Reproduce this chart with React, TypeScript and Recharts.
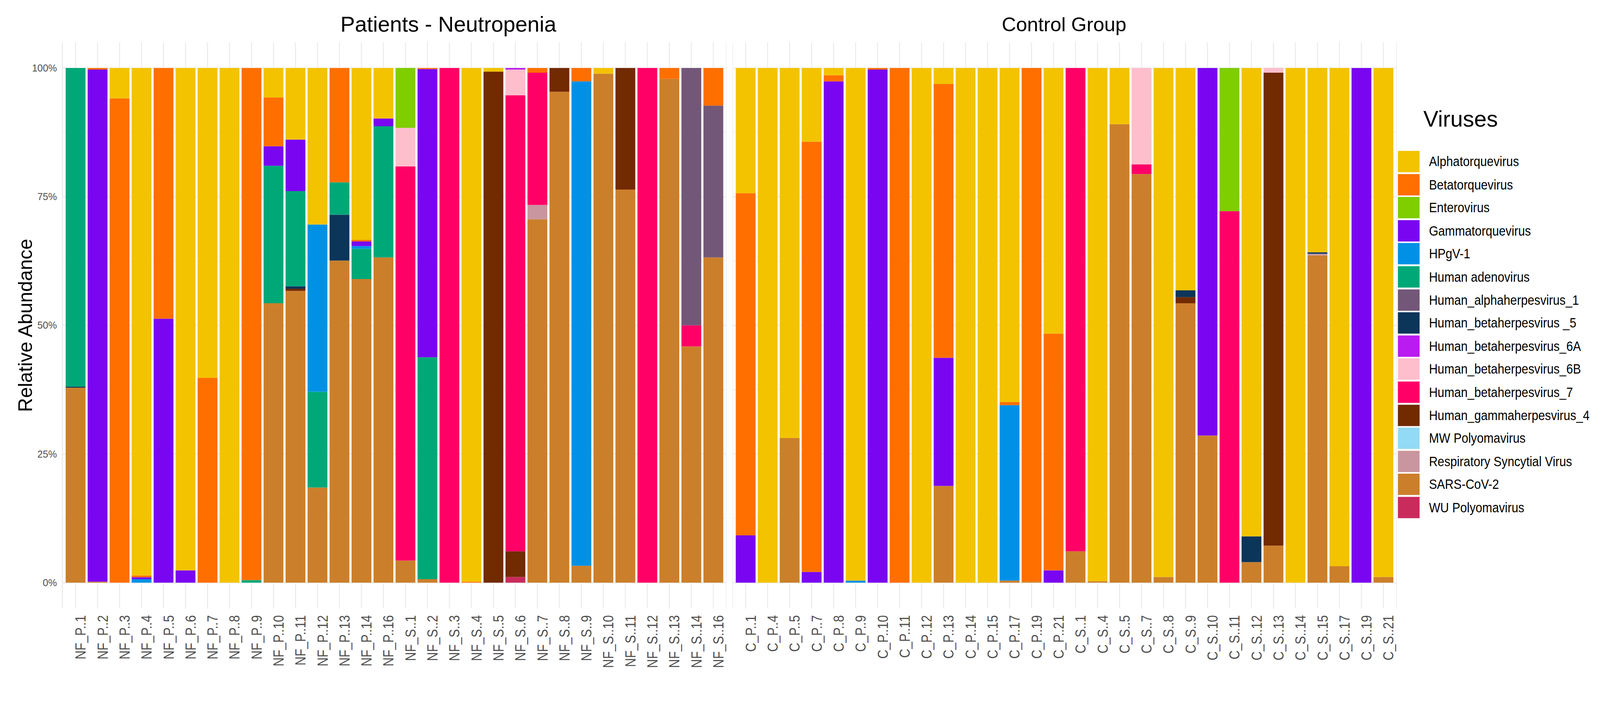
import React from "react"
import { Bar, BarChart, CartesianGrid, XAxis, YAxis } from "recharts"

const font = "'Liberation Sans', Arial, Helvetica, sans-serif"

// legend order (top of each stack first)
const viruses = [
  "Alphatorquevirus",
  "Betatorquevirus",
  "Enterovirus",
  "Gammatorquevirus",
  "HPgV-1",
  "Human adenovirus",
  "Human_alphaherpesvirus_1",
  "Human_betaherpesvirus _5",
  "Human_betaherpesvirus_6A",
  "Human_betaherpesvirus_6B",
  "Human_betaherpesvirus_7",
  "Human_gammaherpesvirus_4",
  "MW Polyomavirus",
  "Respiratory Syncytial Virus",
  "SARS-CoV-2",
  "WU Polyomavirus",
]

const virusColors = [
  "#F3C300", "#FF6F00", "#7ECE00", "#7A06F1", "#0091E6", "#00A878", "#735779", "#0C355A",
  "#BA1BF0", "#FFBECC", "#FF0066", "#722A00", "#92DAF5", "#C996A0", "#CC7F2A", "#C92B5C",
]

const yTicks = [0, 25, 50, 75, 100]
const yMinor = [12.5, 37.5, 62.5, 87.5]

// ---- Patients - Neutropenia ----
const nfSamples = [
  "NF_P..1", "NF_P..2", "NF_P..3", "NF_P..4", "NF_P..5", "NF_P..6", "NF_P..7", "NF_P..8",
  "NF_P..9", "NF_P..10", "NF_P..11", "NF_P..12", "NF_P..13", "NF_P..14", "NF_P..16",
  "NF_S..1", "NF_S..2", "NF_S..3", "NF_S..4", "NF_S..5", "NF_S..6", "NF_S..7", "NF_S..8",
  "NF_S..9", "NF_S..10", "NF_S..11", "NF_S..12", "NF_S..13", "NF_S..14", "NF_S..16",
]
const nfAlpha = [0, 0, 5.9, 98.6, 0, 97.6, 60.2, 100, 0, 5.7, 13.9, 30.4, 0, 33.4, 9.8, 0, 0, 0, 99.8, 0.7, 0, 0, 0, 0, 1.1, 0, 0, 0, 0, 0]
const nfBeta = [0, 0.3, 94.1, 0.35, 48.7, 0, 39.8, 0, 99.5, 9.5, 0, 0, 22.2, 0.3, 0, 0, 0.2, 0, 0.2, 0, 0, 0.9, 0, 2.6, 0, 0, 0, 2.1, 0, 7.3]
const nfEntero = [0, 0, 0, 0, 0, 0, 0, 0, 0, 0, 0, 0, 0, 0, 0, 11.6, 0, 0, 0, 0, 0, 0, 0, 0, 0, 0, 0, 0, 0, 0]
const nfGamma = [0, 99.5, 0, 0.35, 51.3, 2.4, 0, 0, 0, 3.8, 10.0, 0, 0, 0.9, 1.5, 0, 56.0, 0, 0, 0, 0, 0, 0, 0, 0, 0, 0, 0, 0, 0]
const nfHpgv = [0, 0, 0, 0.7, 0, 0, 0, 0, 0, 0, 0, 32.5, 0, 0.5, 0, 0, 0, 0, 0, 0, 0, 0, 0, 94.1, 0, 0, 0, 0, 0, 0]
const nfAdeno = [61.9, 0, 0, 0, 0, 0, 0, 0, 0.5, 26.7, 18.5, 18.6, 6.3, 5.9, 25.5, 0, 43.1, 0, 0, 0, 0, 0, 0, 0, 0, 0, 0, 0, 0, 0]
const nfHhv1 = [0, 0, 0, 0, 0, 0, 0, 0, 0, 0, 0, 0, 0, 0, 0, 0, 0, 0, 0, 0, 0, 0, 0, 0, 0, 0, 0, 0, 50.0, 29.5]
const nfHhv5 = [0.2, 0, 0, 0, 0, 0, 0, 0, 0, 0, 0.5, 0, 8.9, 0, 0, 0, 0, 0, 0, 0, 0, 0, 0, 0, 0, 0, 0, 0, 0, 0]
const nfHhv6a = [0, 0, 0, 0, 0, 0, 0, 0, 0, 0, 0, 0, 0, 0, 0, 0, 0, 0, 0, 0, 0.3, 0, 0, 0, 0, 0, 0, 0, 0, 0]
const nfHhv6b = [0, 0, 0, 0, 0, 0, 0, 0, 0, 0, 0, 0, 0, 0, 0, 7.5, 0, 0, 0, 0, 5.0, 0, 0, 0, 0, 0, 0, 0, 0, 0]
const nfHhv7 = [0, 0, 0, 0, 0, 0, 0, 0, 0, 0, 0, 0, 0, 0, 0, 76.6, 0, 100, 0, 0, 88.6, 25.7, 0, 0, 0, 0, 100, 0, 4.1, 0]
const nfHhv4 = [0, 0, 0, 0, 0, 0, 0, 0, 0, 0, 0.4, 0, 0, 0, 0, 0, 0, 0, 0, 99.3, 5.0, 0, 4.6, 0, 0, 23.6, 0, 0, 0, 0]
const nfMw = [0, 0, 0, 0, 0, 0, 0, 0, 0, 0, 0, 0, 0, 0, 0, 0, 0, 0, 0, 0, 0, 0, 0, 0, 0, 0, 0, 0, 0, 0]
const nfRsv = [0, 0, 0, 0, 0, 0, 0, 0, 0, 0, 0, 0, 0, 0, 0, 0, 0, 0, 0, 0, 0, 2.8, 0, 0, 0, 0, 0, 0, 0, 0]
const nfSars = [37.9, 0.2, 0, 0, 0, 0, 0, 0, 0, 54.3, 56.7, 18.5, 62.6, 59.0, 63.2, 4.3, 0.7, 0, 0, 0, 0, 70.6, 95.4, 3.3, 98.9, 76.4, 0, 97.9, 45.9, 63.2]
const nfWu = [0, 0, 0, 0, 0, 0, 0, 0, 0, 0, 0, 0, 0, 0, 0, 0, 0, 0, 0, 0, 1.1, 0, 0, 0, 0, 0, 0, 0, 0, 0]

// ---- Control Group ----
const cSamples = [
  "C_P..1", "C_P..4", "C_P..5", "C_P..7", "C_P..8", "C_P..9", "C_P..10", "C_P..11",
  "C_P..12", "C_P..13", "C_P..14", "C_P..15", "C_P..17", "C_P..19", "C_P..21",
  "C_S..1", "C_S..4", "C_S..5", "C_S..7", "C_S..8", "C_S..9", "C_S..10", "C_S..11",
  "C_S..12", "C_S..13", "C_S..14", "C_S..15", "C_S..17", "C_S..19", "C_S..21",
]
const cAlpha = [24.3, 100, 71.9, 14.3, 1.4, 99.6, 0, 0, 100, 3.1, 100, 100, 64.9, 0, 51.6, 0, 99.7, 10.9, 0, 98.9, 43.2, 0, 0, 91.0, 0, 100, 35.8, 96.8, 0, 98.9]
const cBeta = [66.5, 0, 0, 83.6, 1.2, 0, 0.3, 100, 0, 53.2, 0, 0, 0.6, 99.8, 46.0, 0, 0, 0, 0, 0, 0, 0, 0, 0, 0, 0, 0, 0, 0, 0]
const cEntero = [0, 0, 0, 0, 0, 0, 0, 0, 0, 0, 0, 0, 0, 0, 0, 0, 0, 0, 0, 0, 0, 0, 27.8, 0, 0, 0, 0, 0, 0, 0]
const cGamma = [9.2, 0, 0, 2.1, 97.4, 0, 99.7, 0, 0, 24.9, 0, 0, 0, 0, 2.4, 0, 0, 0, 0, 0, 0, 71.4, 0, 0, 0, 0, 0, 0, 100, 0]
const cHpgv = [0, 0, 0, 0, 0, 0.4, 0, 0, 0, 0, 0, 0, 34.1, 0, 0, 0, 0, 0, 0, 0, 0, 0, 0, 0, 0, 0, 0, 0, 0, 0]
const cAdeno = [0, 0, 0, 0, 0, 0, 0, 0, 0, 0, 0, 0, 0, 0, 0, 0, 0, 0, 0, 0, 0, 0, 0, 0, 0, 0, 0, 0, 0, 0]
const cHhv1 = [0, 0, 0, 0, 0, 0, 0, 0, 0, 0, 0, 0, 0, 0, 0, 0, 0, 0, 0, 0, 0, 0, 0, 0, 0, 0, 0, 0, 0, 0]
const cHhv5 = [0, 0, 0, 0, 0, 0, 0, 0, 0, 0, 0, 0, 0, 0, 0, 0, 0, 0, 0, 0, 1.3, 0, 0, 5.0, 0, 0, 0.3, 0, 0, 0]
const cHhv6a = [0, 0, 0, 0, 0, 0, 0, 0, 0, 0, 0, 0, 0, 0, 0, 0, 0, 0, 0, 0, 0, 0, 0, 0, 0, 0, 0, 0, 0, 0]
const cHhv6b = [0, 0, 0, 0, 0, 0, 0, 0, 0, 0, 0, 0, 0, 0, 0, 0, 0, 0, 18.7, 0, 0, 0, 0, 0, 0.9, 0, 0, 0, 0, 0]
const cHhv7 = [0, 0, 0, 0, 0, 0, 0, 0, 0, 0, 0, 0, 0, 0, 0, 93.9, 0, 0, 1.9, 0, 0, 0, 72.2, 0, 0, 0, 0, 0, 0, 0]
const cHhv4 = [0, 0, 0, 0, 0, 0, 0, 0, 0, 0, 0, 0, 0, 0, 0, 0, 0, 0, 0, 0, 1.2, 0, 0, 0, 91.9, 0, 0, 0, 0, 0]
const cMw = [0, 0, 0, 0, 0, 0, 0, 0, 0, 0, 0, 0, 0, 0, 0, 0, 0, 0, 0, 0, 0, 0, 0, 0, 0, 0, 0, 0, 0, 0]
const cRsv = [0, 0, 0, 0, 0, 0, 0, 0, 0, 0, 0, 0, 0, 0, 0, 0, 0, 0, 0, 0, 0, 0, 0, 0, 0, 0, 0.3, 0, 0, 0]
const cSars = [0, 0, 28.1, 0, 0, 0, 0, 0, 0, 18.8, 0, 0, 0.4, 0.2, 0, 6.1, 0.3, 89.1, 79.4, 1.1, 54.3, 28.6, 0, 4.0, 7.2, 0, 63.6, 3.2, 0, 1.1]
const cWu = [0, 0, 0, 0, 0, 0, 0, 0, 0, 0, 0, 0, 0, 0, 0, 0, 0, 0, 0, 0, 0, 0, 0, 0, 0, 0, 0, 0, 0, 0]

const nfSeries = [nfAlpha, nfBeta, nfEntero, nfGamma, nfHpgv, nfAdeno, nfHhv1, nfHhv5, nfHhv6a, nfHhv6b, nfHhv7, nfHhv4, nfMw, nfRsv, nfSars, nfWu]
const cSeries = [cAlpha, cBeta, cEntero, cGamma, cHpgv, cAdeno, cHhv1, cHhv5, cHhv6a, cHhv6b, cHhv7, cHhv4, cMw, cRsv, cSars, cWu]

const W = 4275
const H = 1822
const PANEL_W = 1774.6
const Y_AXIS_W = 166.6

function XTick({ x, y, payload }: any) {
  return (
    <text
      transform={`translate(${x},${y}) rotate(-90) scale(0.88,1)`}
      x={0}
      y={27}
      textAnchor="end"
      fontSize={38}
      fontFamily={font}
      fill="#4D4D4D"
    >
      {payload.value}
    </text>
  )
}

function Panel({ samples, series, left, showY }: any) {
  const rows = samples.map((s: string, i: number) => {
    const row: any = { sample: s }
    viruses.forEach((v, k) => {
      row[v] = series[k][i]
    })
    return row
  })
  const yW = showY ? Y_AXIS_W : 0
  // first Bar is drawn at the bottom, so go from the last virus to the first
  const order = viruses.map((_, k) => k).reverse()
  return (
    <div style={{ position: "absolute", left, top: 0 }}>
      <BarChart
        width={yW + PANEL_W}
        height={H}
        data={rows}
        margin={{ top: 113, right: 0, bottom: 17, left: 0 }}
        barCategoryGap="5%"
      >
        <CartesianGrid stroke="#EBEBEB" strokeWidth={1.4} vertical={false} horizontalValues={yMinor} />
        <CartesianGrid stroke="#EBEBEB" strokeWidth={2.7} horizontalValues={yTicks} />
        <XAxis
          dataKey="sample"
          interval={0}
          height={180}
          tickSize={0}
          tickMargin={18}
          axisLine={false}
          tickLine={false}
          padding={{ left: 5.9, right: 5.9 }}
          tick={<XTick />}
        />
        <YAxis
          type="number"
          domain={[-5, 105]}
          ticks={yTicks}
          allowDataOverflow
          hide={!showY}
          width={yW}
          axisLine={false}
          tickLine={false}
          tickSize={0}
          tickMargin={14.6}
          tickFormatter={(v: number) => `${v}%`}
          tick={{ fontSize: 26, fill: "#4D4D4D", fontFamily: font }}
        />
        {order.map((k) => (
          <Bar key={viruses[k]} dataKey={viruses[k]} stackId="a" fill={virusColors[k]} isAnimationActive={false} />
        ))}
      </BarChart>
    </div>
  )
}

export default function App() {
  // fit the fixed 4275 x 1822 drawing into the window, whatever its css size is
  const fit = typeof window !== "undefined" && window.innerWidth > 0 ? window.innerWidth / W : 1
  return (
    <div style={{ width: "100vw", height: "100vh", overflow: "hidden", background: "#fff" }}>
      <style>{`html,body{margin:0;padding:0;overflow:hidden;}`}</style>
      <div
        style={{
          position: "relative",
          width: W,
          height: H,
          background: "#fff",
          transform: `scale(${fit})`,
          transformOrigin: "0 0",
        }}
      >
        <Panel samples={nfSamples} series={nfSeries} left={0} showY />
        <Panel samples={cSamples} series={cSeries} left={1957} showY={false} />
        <svg width={W} height={H} style={{ position: "absolute", left: 0, top: 0, pointerEvents: "none" }}>
          <text x={1198} y={85} textAnchor="middle" fontSize={58} fontFamily={font} fill="#000">
            Patients - Neutropenia
          </text>
          <text x={2843} y={84} textAnchor="middle" fontSize={53} fontFamily={font} fill="#000">
            Control Group
          </text>
          <text
            transform="translate(68,869) rotate(-90)"
            textAnchor="middle"
            dominantBaseline="central"
            fontSize={52}
            fontFamily={font}
            fill="#000"
          >
            Relative Abundance
          </text>
        </svg>
        <div style={{ position: "absolute", left: 3735, top: 0, fontFamily: font }}>
          <div style={{ position: "absolute", left: 68, top: 342 - 54, fontSize: 60, whiteSpace: "nowrap", lineHeight: "60px" }}>
            Viruses
          </div>
          {viruses.map((v, k) => (
            <div key={v} style={{ position: "absolute", left: 0, top: 403 + k * 61.6, height: 57, whiteSpace: "nowrap" }}>
              <div style={{ position: "absolute", left: 0, top: 0, width: 58, height: 57, background: virusColors[k] }} />
              <div
                style={{
                  position: "absolute",
                  left: 83,
                  top: 0,
                  height: 57,
                  lineHeight: "57px",
                  fontSize: 36,
                  color: "#000",
                  transform: "scaleX(0.89)",
                  transformOrigin: "left center",
                }}
              >
                {v}
              </div>
            </div>
          ))}
        </div>
      </div>
    </div>
  )
}
